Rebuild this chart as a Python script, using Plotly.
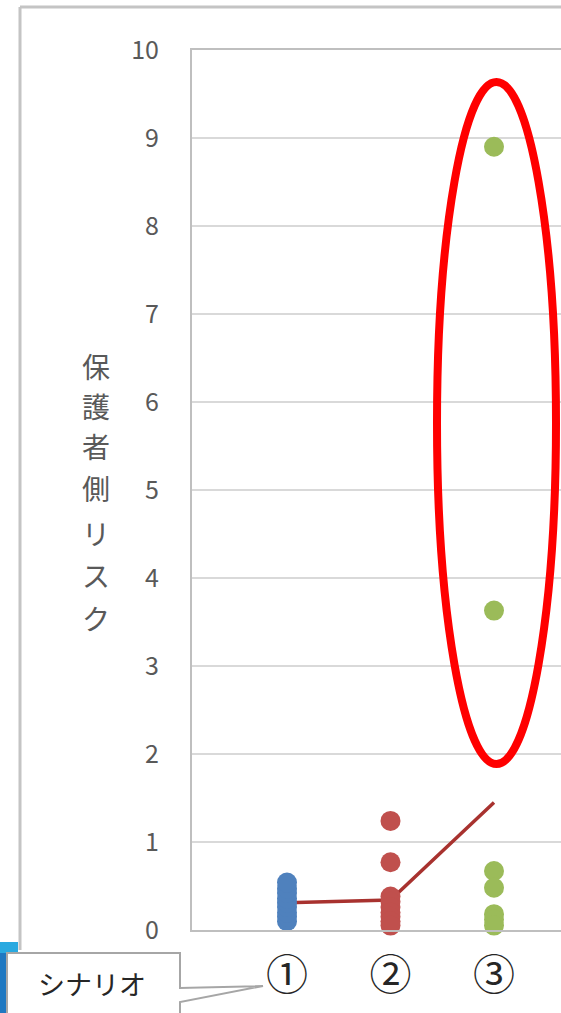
import plotly.graph_objects as go

# Scenario categories and risk values per scenario
scenarios = ["①", "②", "③"]
scenario_pos = [1, 2, 3]
risk_s1 = [0.10, 0.15, 0.20, 0.26, 0.31, 0.36, 0.42, 0.47, 0.54]
risk_s2 = [1.24, 0.77, 0.38, 0.32, 0.26, 0.20, 0.15, 0.10, 0.05]
risk_s3 = [8.90, 3.63, 0.67, 0.48, 0.18, 0.12, 0.05]
mean_risk = [0.31, 0.34, 1.45]
y_ticks = list(range(0, 11))

W, H = 561, 1013
L, R, T, B = 192, 0, 50, 83
plot_w = W - L - R
plot_h = H - T - B


def px(x):
    return (x - L) / plot_w


def py(y):
    return (H - B - y) / plot_h


fig = go.Figure()

# trend line of means (under the markers)
fig.add_trace(go.Scatter(
    x=scenario_pos, y=mean_risk, mode="lines",
    line=dict(color="#a8322f", width=3.5), hoverinfo="skip", showlegend=False,
    cliponaxis=False,
))

colors = ["#4f81bd", "#c0504d", "#9bbb59"]
for pos, vals, col in zip(scenario_pos, [risk_s1, risk_s2, risk_s3], colors):
    fig.add_trace(go.Scatter(
        x=[pos] * len(vals), y=vals, mode="markers",
        marker=dict(color=col, size=20, line=dict(width=0)),
        showlegend=False, cliponaxis=False,
    ))

shapes = []

# outer chart frame (top and left edges)
shapes.append(dict(type="line", xref="paper", yref="paper",
                   x0=px(20), y0=py(7), x1=px(W + 5), y1=py(7),
                   line=dict(color="#c4c4c4", width=3), layer="above"))
shapes.append(dict(type="line", xref="paper", yref="paper",
                   x0=px(20), y0=py(7), x1=px(20), y1=py(950),
                   line=dict(color="#c4c4c4", width=3), layer="above"))

# highlight ellipse around the scenario 3 outliers
shapes.append(dict(type="circle", xref="x", yref="y",
                   x0=1 + (437 - 287) / 103.5, x1=1 + (556 - 287) / 103.5,
                   y0=(930 - 764) / 88, y1=(930 - 82) / 88,
                   line=dict(color="#ff0000", width=8), layer="above"))

# window strip at the lower left
shapes.append(dict(type="rect", xref="paper", yref="paper",
                   x0=px(0), x1=px(18), y0=py(942), y1=py(953),
                   fillcolor="#29a9e0", line=dict(width=0), layer="above"))
shapes.append(dict(type="rect", xref="paper", yref="paper",
                   x0=px(0), x1=px(18), y0=py(953), y1=py(H + 5),
                   fillcolor="#1f78c1", line=dict(width=0), layer="above"))

# callout box pointing to the first scenario label
pts = [(7, 953), (180, 953), (180, 988), (263, 986), (180, 1002),
       (180, H + 10), (7, H + 10)]
path = "M " + " L ".join(f"{px(a):.5f},{py(b):.5f}" for a, b in pts) + " Z"
shapes.append(dict(type="path", xref="paper", yref="paper", path=path,
                   fillcolor="white", line=dict(color="#a6a6a6", width=2),
                   layer="above"))

annotations = []
title_chars = ["保", "護", "者", "側", "リ", "ス", "ク"]
char_y = [366, 406, 446, 488, 533, 575, 618]
for ch, yy in zip(title_chars, char_y):
    annotations.append(dict(text=ch, xref="paper", yref="paper",
                            x=px(96), y=py(yy), showarrow=False,
                            xanchor="center", yanchor="middle",
                            font=dict(size=28, color="#595959",
                                      family="Noto Sans CJK JP")))
annotations.append(dict(text="シナリオ", xref="paper", yref="paper",
                        x=px(92), y=py(983), showarrow=False,
                        xanchor="center", yanchor="middle",
                        font=dict(size=27, color="#262626",
                                  family="Noto Sans CJK JP")))

fig.update_layout(
    width=W, height=H,
    margin=dict(l=L, r=R, t=T, b=B, pad=0),
    paper_bgcolor="white", plot_bgcolor="white",
    shapes=shapes, annotations=annotations,
    xaxis=dict(
        range=[1 - 95 / 103.5, 1 + 274 / 103.5],
        tickvals=scenario_pos, ticktext=scenarios,
        showgrid=False, zeroline=False,
        showline=True, linecolor="#bfbfbf", linewidth=2, mirror=True,
        ticks="", ticklabelstandoff=8,
        tickfont=dict(size=42, color="#262626", family="Noto Sans CJK JP"),
    ),
    yaxis=dict(
        range=[0, 10], tickvals=y_ticks,
        showgrid=True, gridcolor="#d9d9d9", gridwidth=2,
        zeroline=False,
        showline=True, linecolor="#bfbfbf", linewidth=2,
        ticks="", ticklabelstandoff=26,
        tickfont=dict(size=25, color="#595959", family="Noto Sans CJK JP"),
    ),
)

fig.write_html("out.html")
